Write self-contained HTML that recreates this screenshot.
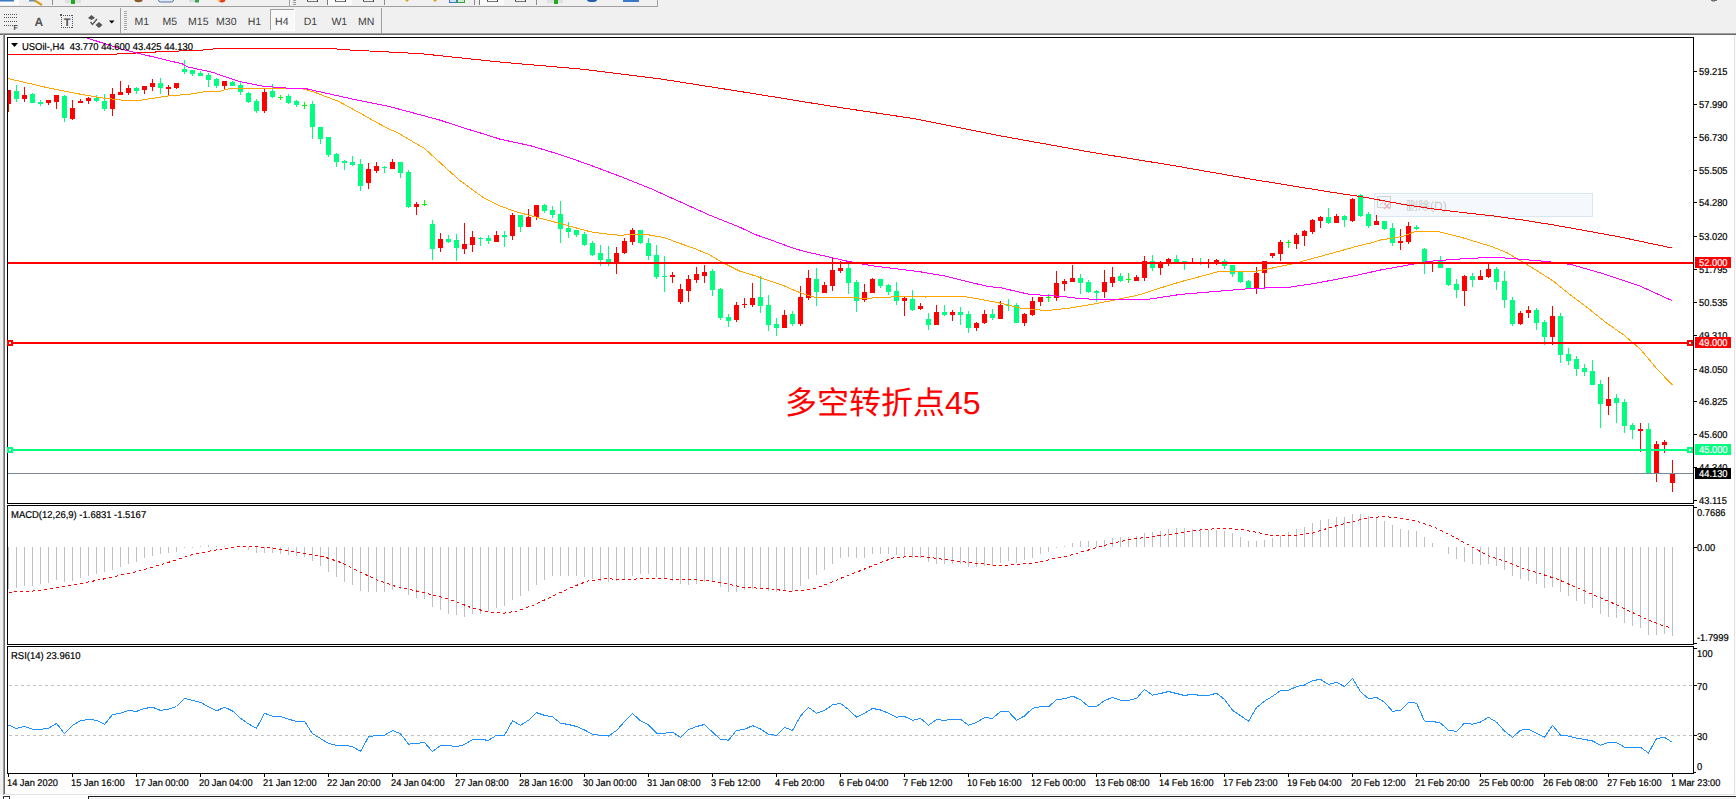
<!DOCTYPE html>
<html><head><meta charset="utf-8"><title>USOil-,H4</title>
<style>
html,body{margin:0;padding:0;background:#f0f0f0;}
body{width:1736px;height:799px;overflow:hidden;position:relative;}
svg{position:absolute;left:0;top:0;display:block;}
text{white-space:pre;text-rendering:geometricPrecision;}
</style></head>
<body>
<svg width="1736" height="799" viewBox="0 0 1736 799">
<rect x="0" y="0" width="1736" height="799" fill="#f0f0f0"/>
<rect x="5" y="35" width="1729" height="759" fill="#fff"/>
<defs><clipPath id="cm"><rect x="8" y="38" width="1685" height="465"/></clipPath><clipPath id="cd"><rect x="8" y="506" width="1685" height="138"/></clipPath><clipPath id="cr"><rect x="8" y="647" width="1685" height="126"/></clipPath></defs>
<g clip-path="url(#cm)">
<rect x="1374.5" y="193.5" width="218" height="23" fill="#f5f9fd" stroke="#d9e6f4" stroke-width="1"/>
<g opacity="0.35"><rect x="1377.5" y="196.5" width="13" height="11" fill="none" stroke="#8a8a8a"/><path d="M1380 205 L1386 199" stroke="#8a8a8a" stroke-width="1"/><path d="M1384 203 L1390 209 M1390 203 L1384 209" stroke="#e04040" stroke-width="1.6"/></g>
<text x="1406" y="209.5" font-family="'Liberation Sans','Noto Sans CJK SC',sans-serif" font-size="12" fill="#c9c9c9">删除(D)</text>
<g shape-rendering="crispEdges">
<rect x="8" y="90" width="1" height="22" fill="#ff0000"/>
<rect x="6" y="90" width="5" height="14" fill="#ff0000"/>
<rect x="16" y="85" width="1" height="17" fill="#00ff7f"/>
<rect x="14" y="91" width="5" height="8" fill="#00ff7f"/>
<rect x="24" y="87" width="1" height="15" fill="#ff0000"/>
<rect x="22" y="95" width="5" height="4" fill="#ff0000"/>
<rect x="32" y="93" width="1" height="10" fill="#00ff7f"/>
<rect x="30" y="94" width="5" height="9" fill="#00ff7f"/>
<rect x="40" y="100" width="1" height="6" fill="#00ff7f"/>
<rect x="38" y="102" width="5" height="2" fill="#00ff7f"/>
<rect x="48" y="100" width="1" height="5" fill="#ff0000"/>
<rect x="46" y="100" width="5" height="3" fill="#ff0000"/>
<rect x="56" y="95" width="1" height="14" fill="#ff0000"/>
<rect x="54" y="95" width="5" height="7" fill="#ff0000"/>
<rect x="64" y="95" width="1" height="27" fill="#00ff7f"/>
<rect x="62" y="96" width="5" height="22" fill="#00ff7f"/>
<rect x="72" y="100" width="1" height="20" fill="#ff0000"/>
<rect x="70" y="108" width="5" height="11" fill="#ff0000"/>
<rect x="80" y="99" width="1" height="4" fill="#ff0000"/>
<rect x="78" y="101" width="5" height="2" fill="#ff0000"/>
<rect x="88" y="97" width="1" height="7" fill="#ff0000"/>
<rect x="86" y="98" width="5" height="3" fill="#ff0000"/>
<rect x="96" y="95" width="1" height="7" fill="#00ff7f"/>
<rect x="94" y="98" width="5" height="3" fill="#00ff7f"/>
<rect x="104" y="94" width="1" height="17" fill="#00ff7f"/>
<rect x="102" y="101" width="5" height="8" fill="#00ff7f"/>
<rect x="112" y="88" width="1" height="28" fill="#ff0000"/>
<rect x="110" y="94" width="5" height="15" fill="#ff0000"/>
<rect x="120" y="81" width="1" height="14" fill="#ff0000"/>
<rect x="118" y="92" width="5" height="3" fill="#ff0000"/>
<rect x="128" y="85" width="1" height="10" fill="#ff0000"/>
<rect x="126" y="88" width="5" height="5" fill="#ff0000"/>
<rect x="136" y="87" width="1" height="7" fill="#00ff7f"/>
<rect x="134" y="88" width="5" height="3" fill="#00ff7f"/>
<rect x="144" y="86" width="1" height="8" fill="#ff0000"/>
<rect x="142" y="86" width="5" height="4" fill="#ff0000"/>
<rect x="152" y="79" width="1" height="12" fill="#ff0000"/>
<rect x="150" y="83" width="5" height="4" fill="#ff0000"/>
<rect x="160" y="78" width="1" height="16" fill="#00ff7f"/>
<rect x="158" y="83" width="5" height="5" fill="#00ff7f"/>
<rect x="168" y="85" width="1" height="11" fill="#ff0000"/>
<rect x="166" y="87" width="5" height="2" fill="#ff0000"/>
<rect x="176" y="83" width="1" height="6" fill="#ff0000"/>
<rect x="174" y="83" width="5" height="5" fill="#ff0000"/>
<rect x="184" y="60" width="1" height="14" fill="#00ff7f"/>
<rect x="182" y="69" width="5" height="3" fill="#00ff7f"/>
<rect x="192" y="70" width="1" height="6" fill="#00ff7f"/>
<rect x="190" y="70" width="5" height="4" fill="#00ff7f"/>
<rect x="200" y="71" width="1" height="5" fill="#00ff7f"/>
<rect x="198" y="73" width="5" height="3" fill="#00ff7f"/>
<rect x="208" y="73" width="1" height="14" fill="#00ff7f"/>
<rect x="206" y="75" width="5" height="5" fill="#00ff7f"/>
<rect x="216" y="78" width="1" height="10" fill="#00ff7f"/>
<rect x="214" y="79" width="5" height="7" fill="#00ff7f"/>
<rect x="224" y="81" width="1" height="9" fill="#ff0000"/>
<rect x="222" y="81" width="5" height="5" fill="#ff0000"/>
<rect x="232" y="81" width="1" height="5" fill="#00ff7f"/>
<rect x="230" y="82" width="5" height="4" fill="#00ff7f"/>
<rect x="240" y="82" width="1" height="13" fill="#00ff7f"/>
<rect x="238" y="85" width="5" height="7" fill="#00ff7f"/>
<rect x="248" y="92" width="1" height="11" fill="#00ff7f"/>
<rect x="246" y="93" width="5" height="9" fill="#00ff7f"/>
<rect x="256" y="99" width="1" height="14" fill="#00ff7f"/>
<rect x="254" y="101" width="5" height="10" fill="#00ff7f"/>
<rect x="264" y="88" width="1" height="25" fill="#ff0000"/>
<rect x="262" y="92" width="5" height="19" fill="#ff0000"/>
<rect x="272" y="84" width="1" height="14" fill="#00ff7f"/>
<rect x="270" y="91" width="5" height="6" fill="#00ff7f"/>
<rect x="280" y="95" width="1" height="5" fill="#00ff00"/>
<rect x="278" y="97" width="5" height="1" fill="#00ff00"/>
<rect x="288" y="94" width="1" height="10" fill="#00ff7f"/>
<rect x="286" y="96" width="5" height="7" fill="#00ff7f"/>
<rect x="296" y="100" width="1" height="7" fill="#00ff7f"/>
<rect x="294" y="101" width="5" height="4" fill="#00ff7f"/>
<rect x="304" y="102" width="1" height="7" fill="#00ff00"/>
<rect x="302" y="105" width="5" height="1" fill="#00ff00"/>
<rect x="312" y="101" width="1" height="38" fill="#00ff7f"/>
<rect x="310" y="104" width="5" height="23" fill="#00ff7f"/>
<rect x="320" y="127" width="1" height="17" fill="#00ff7f"/>
<rect x="318" y="127" width="5" height="12" fill="#00ff7f"/>
<rect x="328" y="137" width="1" height="20" fill="#00ff7f"/>
<rect x="326" y="137" width="5" height="18" fill="#00ff7f"/>
<rect x="336" y="153" width="1" height="14" fill="#00ff7f"/>
<rect x="334" y="154" width="5" height="8" fill="#00ff7f"/>
<rect x="344" y="160" width="1" height="10" fill="#00ff7f"/>
<rect x="342" y="161" width="5" height="2" fill="#00ff7f"/>
<rect x="352" y="156" width="1" height="10" fill="#00ff7f"/>
<rect x="350" y="162" width="5" height="3" fill="#00ff7f"/>
<rect x="360" y="159" width="1" height="32" fill="#00ff7f"/>
<rect x="358" y="164" width="5" height="22" fill="#00ff7f"/>
<rect x="368" y="163" width="1" height="26" fill="#ff0000"/>
<rect x="366" y="169" width="5" height="14" fill="#ff0000"/>
<rect x="376" y="162" width="1" height="11" fill="#ff0000"/>
<rect x="374" y="166" width="5" height="5" fill="#ff0000"/>
<rect x="384" y="166" width="1" height="7" fill="#00ff7f"/>
<rect x="382" y="167" width="5" height="1" fill="#00ff7f"/>
<rect x="392" y="159" width="1" height="10" fill="#ff0000"/>
<rect x="390" y="162" width="5" height="7" fill="#ff0000"/>
<rect x="400" y="162" width="1" height="16" fill="#00ff7f"/>
<rect x="398" y="162" width="5" height="11" fill="#00ff7f"/>
<rect x="408" y="170" width="1" height="38" fill="#00ff7f"/>
<rect x="406" y="172" width="5" height="35" fill="#00ff7f"/>
<rect x="416" y="202" width="1" height="13" fill="#ff0000"/>
<rect x="414" y="204" width="5" height="3" fill="#ff0000"/>
<rect x="424" y="200" width="1" height="6" fill="#00ff00"/>
<rect x="422" y="204" width="5" height="1" fill="#00ff00"/>
<rect x="432" y="220" width="1" height="40" fill="#00ff7f"/>
<rect x="430" y="224" width="5" height="25" fill="#00ff7f"/>
<rect x="440" y="233" width="1" height="19" fill="#ff0000"/>
<rect x="438" y="239" width="5" height="9" fill="#ff0000"/>
<rect x="448" y="235" width="1" height="8" fill="#00ff7f"/>
<rect x="446" y="239" width="5" height="3" fill="#00ff7f"/>
<rect x="456" y="234" width="1" height="27" fill="#00ff7f"/>
<rect x="454" y="240" width="5" height="8" fill="#00ff7f"/>
<rect x="464" y="223" width="1" height="31" fill="#ff0000"/>
<rect x="462" y="244" width="5" height="5" fill="#ff0000"/>
<rect x="472" y="231" width="1" height="21" fill="#ff0000"/>
<rect x="470" y="237" width="5" height="8" fill="#ff0000"/>
<rect x="480" y="237" width="1" height="9" fill="#00ff7f"/>
<rect x="478" y="238" width="5" height="1" fill="#00ff7f"/>
<rect x="488" y="235" width="1" height="9" fill="#00ff7f"/>
<rect x="486" y="238" width="5" height="3" fill="#00ff7f"/>
<rect x="496" y="231" width="1" height="11" fill="#ff0000"/>
<rect x="494" y="235" width="5" height="7" fill="#ff0000"/>
<rect x="504" y="231" width="1" height="16" fill="#00ff7f"/>
<rect x="502" y="235" width="5" height="2" fill="#00ff7f"/>
<rect x="512" y="213" width="1" height="27" fill="#ff0000"/>
<rect x="510" y="215" width="5" height="21" fill="#ff0000"/>
<rect x="520" y="215" width="1" height="17" fill="#00ff7f"/>
<rect x="518" y="215" width="5" height="12" fill="#00ff7f"/>
<rect x="528" y="209" width="1" height="18" fill="#ff0000"/>
<rect x="526" y="217" width="5" height="10" fill="#ff0000"/>
<rect x="536" y="205" width="1" height="15" fill="#ff0000"/>
<rect x="534" y="205" width="5" height="12" fill="#ff0000"/>
<rect x="544" y="204" width="1" height="9" fill="#00ff7f"/>
<rect x="542" y="205" width="5" height="6" fill="#00ff7f"/>
<rect x="552" y="206" width="1" height="12" fill="#00ff7f"/>
<rect x="550" y="210" width="5" height="5" fill="#00ff7f"/>
<rect x="560" y="201" width="1" height="42" fill="#00ff7f"/>
<rect x="558" y="214" width="5" height="15" fill="#00ff7f"/>
<rect x="568" y="222" width="1" height="16" fill="#00ff7f"/>
<rect x="566" y="228" width="5" height="4" fill="#00ff7f"/>
<rect x="576" y="230" width="1" height="7" fill="#00ff7f"/>
<rect x="574" y="230" width="5" height="5" fill="#00ff7f"/>
<rect x="584" y="232" width="1" height="14" fill="#00ff7f"/>
<rect x="582" y="234" width="5" height="11" fill="#00ff7f"/>
<rect x="592" y="241" width="1" height="15" fill="#00ff7f"/>
<rect x="590" y="243" width="5" height="12" fill="#00ff7f"/>
<rect x="600" y="245" width="1" height="21" fill="#00ff7f"/>
<rect x="598" y="253" width="5" height="7" fill="#00ff7f"/>
<rect x="608" y="246" width="1" height="20" fill="#00ff7f"/>
<rect x="606" y="259" width="5" height="3" fill="#00ff7f"/>
<rect x="616" y="247" width="1" height="27" fill="#ff0000"/>
<rect x="614" y="253" width="5" height="10" fill="#ff0000"/>
<rect x="624" y="238" width="1" height="16" fill="#ff0000"/>
<rect x="622" y="241" width="5" height="12" fill="#ff0000"/>
<rect x="632" y="228" width="1" height="17" fill="#ff0000"/>
<rect x="630" y="230" width="5" height="12" fill="#ff0000"/>
<rect x="640" y="230" width="1" height="14" fill="#00ff7f"/>
<rect x="638" y="230" width="5" height="13" fill="#00ff7f"/>
<rect x="648" y="238" width="1" height="22" fill="#00ff7f"/>
<rect x="646" y="243" width="5" height="13" fill="#00ff7f"/>
<rect x="656" y="245" width="1" height="34" fill="#00ff7f"/>
<rect x="654" y="255" width="5" height="22" fill="#00ff7f"/>
<rect x="664" y="256" width="1" height="36" fill="#00ff7f"/>
<rect x="662" y="276" width="5" height="1" fill="#00ff7f"/>
<rect x="672" y="272" width="1" height="11" fill="#ff0000"/>
<rect x="670" y="275" width="5" height="2" fill="#ff0000"/>
<rect x="680" y="284" width="1" height="20" fill="#ff0000"/>
<rect x="678" y="289" width="5" height="13" fill="#ff0000"/>
<rect x="688" y="275" width="1" height="27" fill="#ff0000"/>
<rect x="686" y="279" width="5" height="12" fill="#ff0000"/>
<rect x="696" y="267" width="1" height="16" fill="#ff0000"/>
<rect x="694" y="274" width="5" height="6" fill="#ff0000"/>
<rect x="704" y="265" width="1" height="18" fill="#ff0000"/>
<rect x="702" y="272" width="5" height="4" fill="#ff0000"/>
<rect x="712" y="269" width="1" height="27" fill="#00ff7f"/>
<rect x="710" y="271" width="5" height="19" fill="#00ff7f"/>
<rect x="720" y="288" width="1" height="32" fill="#00ff7f"/>
<rect x="718" y="289" width="5" height="29" fill="#00ff7f"/>
<rect x="728" y="314" width="1" height="13" fill="#00ff7f"/>
<rect x="726" y="317" width="5" height="4" fill="#00ff7f"/>
<rect x="736" y="302" width="1" height="20" fill="#ff0000"/>
<rect x="734" y="305" width="5" height="15" fill="#ff0000"/>
<rect x="744" y="298" width="1" height="10" fill="#ff0000"/>
<rect x="742" y="304" width="5" height="1" fill="#ff0000"/>
<rect x="752" y="283" width="1" height="24" fill="#ff0000"/>
<rect x="750" y="298" width="5" height="7" fill="#ff0000"/>
<rect x="760" y="276" width="1" height="37" fill="#00ff7f"/>
<rect x="758" y="297" width="5" height="9" fill="#00ff7f"/>
<rect x="768" y="295" width="1" height="36" fill="#00ff7f"/>
<rect x="766" y="305" width="5" height="20" fill="#00ff7f"/>
<rect x="776" y="318" width="1" height="18" fill="#00ff7f"/>
<rect x="774" y="324" width="5" height="4" fill="#00ff7f"/>
<rect x="784" y="310" width="1" height="18" fill="#ff0000"/>
<rect x="782" y="315" width="5" height="13" fill="#ff0000"/>
<rect x="792" y="311" width="1" height="15" fill="#00ff7f"/>
<rect x="790" y="314" width="5" height="10" fill="#00ff7f"/>
<rect x="800" y="286" width="1" height="40" fill="#ff0000"/>
<rect x="798" y="297" width="5" height="27" fill="#ff0000"/>
<rect x="808" y="270" width="1" height="30" fill="#ff0000"/>
<rect x="806" y="278" width="5" height="20" fill="#ff0000"/>
<rect x="816" y="268" width="1" height="38" fill="#00ff7f"/>
<rect x="814" y="279" width="5" height="13" fill="#00ff7f"/>
<rect x="824" y="282" width="1" height="11" fill="#ff0000"/>
<rect x="822" y="285" width="5" height="8" fill="#ff0000"/>
<rect x="832" y="258" width="1" height="33" fill="#ff0000"/>
<rect x="830" y="270" width="5" height="16" fill="#ff0000"/>
<rect x="840" y="261" width="1" height="12" fill="#ff0000"/>
<rect x="838" y="268" width="5" height="3" fill="#ff0000"/>
<rect x="848" y="263" width="1" height="31" fill="#00ff7f"/>
<rect x="846" y="268" width="5" height="15" fill="#00ff7f"/>
<rect x="856" y="280" width="1" height="32" fill="#00ff7f"/>
<rect x="854" y="282" width="5" height="19" fill="#00ff7f"/>
<rect x="864" y="284" width="1" height="18" fill="#ff0000"/>
<rect x="862" y="292" width="5" height="8" fill="#ff0000"/>
<rect x="872" y="278" width="1" height="15" fill="#ff0000"/>
<rect x="870" y="279" width="5" height="14" fill="#ff0000"/>
<rect x="880" y="279" width="1" height="9" fill="#00ff7f"/>
<rect x="878" y="279" width="5" height="7" fill="#00ff7f"/>
<rect x="888" y="284" width="1" height="11" fill="#00ff7f"/>
<rect x="886" y="285" width="5" height="7" fill="#00ff7f"/>
<rect x="896" y="282" width="1" height="23" fill="#00ff7f"/>
<rect x="894" y="291" width="5" height="10" fill="#00ff7f"/>
<rect x="904" y="297" width="1" height="19" fill="#ff0000"/>
<rect x="902" y="298" width="5" height="3" fill="#ff0000"/>
<rect x="912" y="290" width="1" height="21" fill="#00ff7f"/>
<rect x="910" y="299" width="5" height="11" fill="#00ff7f"/>
<rect x="920" y="303" width="1" height="7" fill="#ff0000"/>
<rect x="918" y="306" width="5" height="3" fill="#ff0000"/>
<rect x="928" y="313" width="1" height="17" fill="#00ff7f"/>
<rect x="926" y="319" width="5" height="6" fill="#00ff7f"/>
<rect x="936" y="305" width="1" height="20" fill="#ff0000"/>
<rect x="934" y="312" width="5" height="13" fill="#ff0000"/>
<rect x="944" y="305" width="1" height="11" fill="#00ff7f"/>
<rect x="942" y="312" width="5" height="3" fill="#00ff7f"/>
<rect x="952" y="310" width="1" height="11" fill="#ff0000"/>
<rect x="950" y="312" width="5" height="3" fill="#ff0000"/>
<rect x="960" y="307" width="1" height="18" fill="#00ff7f"/>
<rect x="958" y="312" width="5" height="3" fill="#00ff7f"/>
<rect x="968" y="311" width="1" height="22" fill="#00ff7f"/>
<rect x="966" y="314" width="5" height="14" fill="#00ff7f"/>
<rect x="976" y="322" width="1" height="9" fill="#ff0000"/>
<rect x="974" y="323" width="5" height="5" fill="#ff0000"/>
<rect x="984" y="310" width="1" height="14" fill="#ff0000"/>
<rect x="982" y="314" width="5" height="9" fill="#ff0000"/>
<rect x="992" y="309" width="1" height="11" fill="#00ff7f"/>
<rect x="990" y="314" width="5" height="4" fill="#00ff7f"/>
<rect x="1000" y="301" width="1" height="18" fill="#ff0000"/>
<rect x="998" y="305" width="5" height="14" fill="#ff0000"/>
<rect x="1008" y="299" width="1" height="12" fill="#00ff7f"/>
<rect x="1006" y="305" width="5" height="1" fill="#00ff7f"/>
<rect x="1016" y="303" width="1" height="20" fill="#00ff7f"/>
<rect x="1014" y="305" width="5" height="18" fill="#00ff7f"/>
<rect x="1024" y="313" width="1" height="13" fill="#ff0000"/>
<rect x="1022" y="314" width="5" height="9" fill="#ff0000"/>
<rect x="1032" y="297" width="1" height="19" fill="#ff0000"/>
<rect x="1030" y="301" width="5" height="14" fill="#ff0000"/>
<rect x="1040" y="297" width="1" height="9" fill="#ff0000"/>
<rect x="1038" y="297" width="5" height="5" fill="#ff0000"/>
<rect x="1048" y="294" width="1" height="8" fill="#00ff00"/>
<rect x="1046" y="297" width="5" height="1" fill="#00ff00"/>
<rect x="1056" y="271" width="1" height="30" fill="#ff0000"/>
<rect x="1054" y="283" width="5" height="15" fill="#ff0000"/>
<rect x="1064" y="279" width="1" height="12" fill="#ff0000"/>
<rect x="1062" y="281" width="5" height="3" fill="#ff0000"/>
<rect x="1072" y="265" width="1" height="17" fill="#ff0000"/>
<rect x="1070" y="278" width="5" height="4" fill="#ff0000"/>
<rect x="1080" y="274" width="1" height="20" fill="#00ff7f"/>
<rect x="1078" y="278" width="5" height="5" fill="#00ff7f"/>
<rect x="1088" y="280" width="1" height="13" fill="#00ff7f"/>
<rect x="1086" y="282" width="5" height="10" fill="#00ff7f"/>
<rect x="1096" y="290" width="1" height="12" fill="#00ff7f"/>
<rect x="1094" y="291" width="5" height="2" fill="#00ff7f"/>
<rect x="1104" y="270" width="1" height="28" fill="#ff0000"/>
<rect x="1102" y="282" width="5" height="10" fill="#ff0000"/>
<rect x="1112" y="267" width="1" height="20" fill="#ff0000"/>
<rect x="1110" y="277" width="5" height="6" fill="#ff0000"/>
<rect x="1120" y="273" width="1" height="9" fill="#00ff7f"/>
<rect x="1118" y="276" width="5" height="5" fill="#00ff7f"/>
<rect x="1128" y="273" width="1" height="10" fill="#00ff00"/>
<rect x="1126" y="279" width="5" height="1" fill="#00ff00"/>
<rect x="1136" y="275" width="1" height="6" fill="#ff0000"/>
<rect x="1134" y="277" width="5" height="4" fill="#ff0000"/>
<rect x="1144" y="256" width="1" height="25" fill="#ff0000"/>
<rect x="1142" y="261" width="5" height="17" fill="#ff0000"/>
<rect x="1152" y="255" width="1" height="16" fill="#00ff7f"/>
<rect x="1150" y="261" width="5" height="7" fill="#00ff7f"/>
<rect x="1160" y="261" width="1" height="14" fill="#ff0000"/>
<rect x="1158" y="263" width="5" height="5" fill="#ff0000"/>
<rect x="1168" y="258" width="1" height="8" fill="#ff0000"/>
<rect x="1166" y="259" width="5" height="4" fill="#ff0000"/>
<rect x="1176" y="255" width="1" height="7" fill="#00ff7f"/>
<rect x="1174" y="259" width="5" height="3" fill="#00ff7f"/>
<rect x="1184" y="261" width="1" height="9" fill="#00ff7f"/>
<rect x="1182" y="261" width="5" height="1" fill="#00ff7f"/>
<rect x="1192" y="258" width="1" height="6" fill="#ff0000"/>
<rect x="1190" y="262" width="5" height="2" fill="#ff0000"/>
<rect x="1200" y="258" width="1" height="7" fill="#00ff7f"/>
<rect x="1198" y="262" width="5" height="1" fill="#00ff7f"/>
<rect x="1208" y="259" width="1" height="9" fill="#ff0000"/>
<rect x="1206" y="262" width="5" height="1" fill="#ff0000"/>
<rect x="1216" y="259" width="1" height="6" fill="#ff0000"/>
<rect x="1214" y="260" width="5" height="4" fill="#ff0000"/>
<rect x="1224" y="259" width="1" height="10" fill="#00ff7f"/>
<rect x="1222" y="261" width="5" height="5" fill="#00ff7f"/>
<rect x="1232" y="265" width="1" height="12" fill="#00ff7f"/>
<rect x="1230" y="265" width="5" height="9" fill="#00ff7f"/>
<rect x="1240" y="271" width="1" height="12" fill="#00ff7f"/>
<rect x="1238" y="272" width="5" height="10" fill="#00ff7f"/>
<rect x="1248" y="280" width="1" height="8" fill="#00ff7f"/>
<rect x="1246" y="281" width="5" height="7" fill="#00ff7f"/>
<rect x="1256" y="267" width="1" height="27" fill="#ff0000"/>
<rect x="1254" y="273" width="5" height="15" fill="#ff0000"/>
<rect x="1264" y="261" width="1" height="26" fill="#ff0000"/>
<rect x="1262" y="261" width="5" height="12" fill="#ff0000"/>
<rect x="1272" y="253" width="1" height="5" fill="#ff0000"/>
<rect x="1270" y="253" width="5" height="3" fill="#ff0000"/>
<rect x="1280" y="240" width="1" height="21" fill="#ff0000"/>
<rect x="1278" y="242" width="5" height="12" fill="#ff0000"/>
<rect x="1288" y="240" width="1" height="8" fill="#00ff00"/>
<rect x="1286" y="242" width="5" height="1" fill="#00ff00"/>
<rect x="1296" y="233" width="1" height="16" fill="#ff0000"/>
<rect x="1294" y="235" width="5" height="9" fill="#ff0000"/>
<rect x="1304" y="230" width="1" height="16" fill="#ff0000"/>
<rect x="1302" y="231" width="5" height="5" fill="#ff0000"/>
<rect x="1312" y="219" width="1" height="15" fill="#ff0000"/>
<rect x="1310" y="220" width="5" height="12" fill="#ff0000"/>
<rect x="1320" y="216" width="1" height="12" fill="#ff0000"/>
<rect x="1318" y="217" width="5" height="4" fill="#ff0000"/>
<rect x="1328" y="208" width="1" height="16" fill="#00ff7f"/>
<rect x="1326" y="217" width="5" height="6" fill="#00ff7f"/>
<rect x="1336" y="214" width="1" height="9" fill="#ff0000"/>
<rect x="1334" y="216" width="5" height="7" fill="#ff0000"/>
<rect x="1344" y="215" width="1" height="12" fill="#00ff7f"/>
<rect x="1342" y="216" width="5" height="4" fill="#00ff7f"/>
<rect x="1352" y="198" width="1" height="24" fill="#ff0000"/>
<rect x="1350" y="199" width="5" height="22" fill="#ff0000"/>
<rect x="1360" y="194" width="1" height="23" fill="#00ff7f"/>
<rect x="1358" y="195" width="5" height="21" fill="#00ff7f"/>
<rect x="1368" y="212" width="1" height="16" fill="#00ff7f"/>
<rect x="1366" y="214" width="5" height="12" fill="#00ff7f"/>
<rect x="1376" y="215" width="1" height="10" fill="#ff0000"/>
<rect x="1374" y="221" width="5" height="4" fill="#ff0000"/>
<rect x="1384" y="221" width="1" height="9" fill="#00ff7f"/>
<rect x="1382" y="221" width="5" height="8" fill="#00ff7f"/>
<rect x="1392" y="223" width="1" height="23" fill="#00ff7f"/>
<rect x="1390" y="228" width="5" height="15" fill="#00ff7f"/>
<rect x="1400" y="229" width="1" height="21" fill="#ff0000"/>
<rect x="1398" y="241" width="5" height="2" fill="#ff0000"/>
<rect x="1408" y="222" width="1" height="22" fill="#ff0000"/>
<rect x="1406" y="226" width="5" height="16" fill="#ff0000"/>
<rect x="1416" y="225" width="1" height="5" fill="#00ff7f"/>
<rect x="1414" y="227" width="5" height="2" fill="#00ff7f"/>
<rect x="1424" y="248" width="1" height="26" fill="#00ff7f"/>
<rect x="1422" y="249" width="5" height="13" fill="#00ff7f"/>
<rect x="1432" y="262" width="1" height="10" fill="#ff0000"/>
<rect x="1430" y="262" width="5" height="2" fill="#ff0000"/>
<rect x="1440" y="256" width="1" height="12" fill="#00ff7f"/>
<rect x="1438" y="261" width="5" height="7" fill="#00ff7f"/>
<rect x="1448" y="268" width="1" height="18" fill="#00ff7f"/>
<rect x="1446" y="268" width="5" height="17" fill="#00ff7f"/>
<rect x="1456" y="279" width="1" height="19" fill="#00ff7f"/>
<rect x="1454" y="284" width="5" height="6" fill="#00ff7f"/>
<rect x="1464" y="275" width="1" height="31" fill="#ff0000"/>
<rect x="1462" y="276" width="5" height="15" fill="#ff0000"/>
<rect x="1472" y="273" width="1" height="14" fill="#00ff7f"/>
<rect x="1470" y="276" width="5" height="4" fill="#00ff7f"/>
<rect x="1480" y="270" width="1" height="10" fill="#ff0000"/>
<rect x="1478" y="276" width="5" height="4" fill="#ff0000"/>
<rect x="1488" y="264" width="1" height="14" fill="#ff0000"/>
<rect x="1486" y="269" width="5" height="8" fill="#ff0000"/>
<rect x="1496" y="267" width="1" height="23" fill="#00ff7f"/>
<rect x="1494" y="269" width="5" height="13" fill="#00ff7f"/>
<rect x="1504" y="271" width="1" height="37" fill="#00ff7f"/>
<rect x="1502" y="281" width="5" height="19" fill="#00ff7f"/>
<rect x="1512" y="297" width="1" height="29" fill="#00ff7f"/>
<rect x="1510" y="300" width="5" height="24" fill="#00ff7f"/>
<rect x="1520" y="311" width="1" height="14" fill="#ff0000"/>
<rect x="1518" y="313" width="5" height="11" fill="#ff0000"/>
<rect x="1528" y="306" width="1" height="12" fill="#ff0000"/>
<rect x="1526" y="310" width="5" height="3" fill="#ff0000"/>
<rect x="1536" y="308" width="1" height="22" fill="#00ff7f"/>
<rect x="1534" y="310" width="5" height="13" fill="#00ff7f"/>
<rect x="1544" y="320" width="1" height="25" fill="#00ff7f"/>
<rect x="1542" y="322" width="5" height="15" fill="#00ff7f"/>
<rect x="1552" y="306" width="1" height="39" fill="#ff0000"/>
<rect x="1550" y="316" width="5" height="21" fill="#ff0000"/>
<rect x="1560" y="313" width="1" height="50" fill="#00ff7f"/>
<rect x="1558" y="316" width="5" height="39" fill="#00ff7f"/>
<rect x="1568" y="348" width="1" height="17" fill="#00ff7f"/>
<rect x="1566" y="354" width="5" height="7" fill="#00ff7f"/>
<rect x="1576" y="356" width="1" height="20" fill="#00ff7f"/>
<rect x="1574" y="359" width="5" height="10" fill="#00ff7f"/>
<rect x="1584" y="364" width="1" height="12" fill="#00ff7f"/>
<rect x="1582" y="368" width="5" height="4" fill="#00ff7f"/>
<rect x="1592" y="360" width="1" height="25" fill="#00ff7f"/>
<rect x="1590" y="371" width="5" height="14" fill="#00ff7f"/>
<rect x="1600" y="380" width="1" height="48" fill="#00ff7f"/>
<rect x="1598" y="384" width="5" height="20" fill="#00ff7f"/>
<rect x="1608" y="377" width="1" height="38" fill="#ff0000"/>
<rect x="1606" y="399" width="5" height="7" fill="#ff0000"/>
<rect x="1616" y="394" width="1" height="29" fill="#00ff7f"/>
<rect x="1614" y="398" width="5" height="5" fill="#00ff7f"/>
<rect x="1624" y="399" width="1" height="34" fill="#00ff7f"/>
<rect x="1622" y="402" width="5" height="24" fill="#00ff7f"/>
<rect x="1632" y="423" width="1" height="16" fill="#00ff7f"/>
<rect x="1630" y="425" width="5" height="5" fill="#00ff7f"/>
<rect x="1640" y="423" width="1" height="29" fill="#ff0000"/>
<rect x="1638" y="429" width="5" height="2" fill="#ff0000"/>
<rect x="1648" y="423" width="1" height="50" fill="#00ff7f"/>
<rect x="1646" y="429" width="5" height="44" fill="#00ff7f"/>
<rect x="1656" y="441" width="1" height="41" fill="#ff0000"/>
<rect x="1654" y="444" width="5" height="29" fill="#ff0000"/>
<rect x="1664" y="440" width="1" height="13" fill="#ff0000"/>
<rect x="1662" y="442" width="5" height="3" fill="#ff0000"/>
<rect x="1672" y="460" width="1" height="32" fill="#ff0000"/>
<rect x="1670" y="473" width="5" height="10" fill="#ff0000"/>
</g>
<g shape-rendering="crispEdges">
<polyline points="7.5,54.1 115.5,54.1 161.5,51.7 202.1,50.1 222.3,48.1 331.1,48.1 340.5,49.5 421.1,53.7 501.5,62.2 582.5,69.2 663.1,79.3 670.5,80.5 751.1,93.2 831.8,106.3 912.5,118.4 993.1,134.5 1010.5,137.7 1091.1,152.2 1171.8,165.3 1252.5,179.4 1333.1,192.5 1360.5,196.5 1372.5,198.7 1402.5,204.3 1432.5,208.8 1462.5,212.5 1492.5,215.8 1522.5,220.0 1552.5,224.8 1572.5,228.3 1620.5,237.1 1672.5,248.1" fill="none" stroke="#ff0000" stroke-width="1" />
<polyline points="7.5,78.4 50.5,88.4 80.5,94.2 104.5,98.2 125.5,100.5 140.5,100.2 168.5,95.9 188.5,94.4 204.5,91.7 219.5,91.3 231.0,88.2 268.5,88.2 301.1,88.5 313.5,91.9 338.5,101.3 363.5,115.0 372.1,120.0 388.5,128.8 397.1,132.5 424.5,148.5 437.1,160.0 459.3,180.0 483.1,197.5 500.5,206.1 515.5,211.6 537.9,217.6 560.5,223.6 590.4,231.8 604.5,233.8 619.5,235.3 634.5,234.3 649.5,235.0 664.5,237.7 679.5,243.3 694.5,248.5 709.5,254.8 721.5,262.0 739.5,271.0 754.5,275.6 769.5,280.8 784.5,286.0 796.5,291.3 809.0,295.7 815.3,297.3 844.1,297.3 861.5,298.2 884.1,297.8 896.5,296.3 925.5,297.0 940.5,296.3 964.2,296.6 978.0,298.8 988.5,301.0 996.5,302.3 1021.0,308.2 1036.1,309.5 1046.1,310.7 1068.5,308.2 1088.5,305.0 1113.5,300.3 1138.5,295.0 1163.5,287.0 1180.5,281.8 1210.5,273.8 1218.0,271.6 1243.5,271.9 1255.5,271.6 1291.5,264.0 1300.5,261.8 1330.5,253.6 1360.5,245.3 1372.5,242.6 1380.5,240.0 1402.5,236.5 1416.0,231.3 1437.1,231.3 1462.5,237.7 1492.5,246.8 1507.5,253.0 1522.5,262.0 1537.5,271.0 1553.1,281.0 1570.5,295.0 1588.1,308.2 1605.5,322.2 1623.2,334.5 1640.5,349.4 1658.3,370.4 1672.3,384.8" fill="none" stroke="#ffa500" stroke-width="1" />
<polyline points="70.5,33.0 87.2,38.0 121.5,49.1 141.5,54.1 182.0,63.8 188.5,67.1 213.5,72.5 222.3,75.9 238.5,81.3 263.5,86.3 288.5,88.2 307.5,89.0 326.2,93.2 351.2,98.8 388.5,106.3 439.5,120.0 462.2,127.5 487.2,135.0 500.5,139.3 530.5,145.7 560.5,154.7 590.4,165.2 620.3,176.4 650.3,188.4 680.2,201.9 710.2,215.4 740.1,227.3 754.5,234.3 769.5,239.5 792.2,247.8 804.5,251.5 821.5,255.3 846.5,261.0 871.5,265.7 896.5,268.8 921.5,272.0 946.5,276.3 971.5,282.6 988.5,286.6 1001.0,287.8 1013.5,290.7 1029.5,294.4 1061.1,296.3 1076.1,298.2 1094.9,299.4 1147.5,299.4 1163.5,297.0 1180.5,294.4 1210.5,291.9 1255.5,288.1 1285.5,287.8 1315.5,283.3 1345.5,277.6 1372.5,271.8 1380.5,270.0 1414.5,263.9 1429.5,261.3 1453.5,259.4 1485.1,257.6 1500.1,257.6 1522.5,259.4 1549.5,261.8 1570.5,264.4 1605.5,274.4 1640.5,286.3 1672.3,300.7" fill="none" stroke="#ff00ff" stroke-width="1" />
</g>
<rect x="8" y="262" width="1685" height="2" fill="#ff0000"/>
<rect x="8" y="342" width="1685" height="2" fill="#ff0000"/>
<rect x="8" y="449" width="1685" height="2" fill="#00ff7f"/>
<rect x="8" y="473" width="1685" height="1" fill="#778899"/>
<text x="785" y="414" font-family="'Liberation Sans','Noto Sans CJK SC',sans-serif" font-size="32" fill="#ff0000"><tspan font-family="'Liberation Sans','Noto Sans CJK SC',sans-serif">多空转折点</tspan>45</text>
</g>
<path d="M11 43 H18 L14.5 47 Z" fill="#000"/>
<text transform="translate(22,49.5) scale(0.944,1)" font-family="'Liberation Sans',sans-serif" font-size="10" fill="#000" stroke="#000" stroke-width="0.2" xml:space="preserve">USOil-,H4  43.770 44.600 43.425 44.130</text>
<g clip-path="url(#cd)" shape-rendering="crispEdges">
<rect x="8" y="547" width="1" height="42" fill="#c0c0c0"/>
<rect x="16" y="547" width="1" height="41" fill="#c0c0c0"/>
<rect x="24" y="547" width="1" height="39" fill="#c0c0c0"/>
<rect x="32" y="547" width="1" height="39" fill="#c0c0c0"/>
<rect x="40" y="547" width="1" height="37" fill="#c0c0c0"/>
<rect x="48" y="547" width="1" height="36" fill="#c0c0c0"/>
<rect x="56" y="547" width="1" height="33" fill="#c0c0c0"/>
<rect x="64" y="547" width="1" height="35" fill="#c0c0c0"/>
<rect x="72" y="547" width="1" height="34" fill="#c0c0c0"/>
<rect x="80" y="547" width="1" height="31" fill="#c0c0c0"/>
<rect x="88" y="547" width="1" height="29" fill="#c0c0c0"/>
<rect x="96" y="547" width="1" height="27" fill="#c0c0c0"/>
<rect x="104" y="547" width="1" height="25" fill="#c0c0c0"/>
<rect x="112" y="547" width="1" height="23" fill="#c0c0c0"/>
<rect x="120" y="547" width="1" height="20" fill="#c0c0c0"/>
<rect x="128" y="547" width="1" height="17" fill="#c0c0c0"/>
<rect x="136" y="547" width="1" height="15" fill="#c0c0c0"/>
<rect x="144" y="547" width="1" height="11" fill="#c0c0c0"/>
<rect x="152" y="547" width="1" height="9" fill="#c0c0c0"/>
<rect x="160" y="547" width="1" height="7" fill="#c0c0c0"/>
<rect x="168" y="547" width="1" height="6" fill="#c0c0c0"/>
<rect x="176" y="547" width="1" height="5" fill="#c0c0c0"/>
<rect x="184" y="547" width="1" height="1" fill="#c0c0c0"/>
<rect x="192" y="547" width="1" height="1" fill="#c0c0c0"/>
<rect x="200" y="546" width="1" height="1" fill="#c0c0c0"/>
<rect x="208" y="545" width="1" height="2" fill="#c0c0c0"/>
<rect x="216" y="546" width="1" height="1" fill="#c0c0c0"/>
<rect x="224" y="546" width="1" height="1" fill="#c0c0c0"/>
<rect x="248" y="547" width="1" height="3" fill="#c0c0c0"/>
<rect x="256" y="547" width="1" height="6" fill="#c0c0c0"/>
<rect x="264" y="547" width="1" height="6" fill="#c0c0c0"/>
<rect x="272" y="547" width="1" height="6" fill="#c0c0c0"/>
<rect x="280" y="547" width="1" height="7" fill="#c0c0c0"/>
<rect x="288" y="547" width="1" height="8" fill="#c0c0c0"/>
<rect x="296" y="547" width="1" height="9" fill="#c0c0c0"/>
<rect x="304" y="547" width="1" height="10" fill="#c0c0c0"/>
<rect x="312" y="547" width="1" height="14" fill="#c0c0c0"/>
<rect x="320" y="547" width="1" height="19" fill="#c0c0c0"/>
<rect x="328" y="547" width="1" height="25" fill="#c0c0c0"/>
<rect x="336" y="547" width="1" height="30" fill="#c0c0c0"/>
<rect x="344" y="547" width="1" height="35" fill="#c0c0c0"/>
<rect x="352" y="547" width="1" height="38" fill="#c0c0c0"/>
<rect x="360" y="547" width="1" height="44" fill="#c0c0c0"/>
<rect x="368" y="547" width="1" height="45" fill="#c0c0c0"/>
<rect x="376" y="547" width="1" height="45" fill="#c0c0c0"/>
<rect x="384" y="547" width="1" height="45" fill="#c0c0c0"/>
<rect x="392" y="547" width="1" height="43" fill="#c0c0c0"/>
<rect x="400" y="547" width="1" height="42" fill="#c0c0c0"/>
<rect x="408" y="547" width="1" height="48" fill="#c0c0c0"/>
<rect x="416" y="547" width="1" height="51" fill="#c0c0c0"/>
<rect x="424" y="547" width="1" height="52" fill="#c0c0c0"/>
<rect x="432" y="547" width="1" height="60" fill="#c0c0c0"/>
<rect x="440" y="547" width="1" height="63" fill="#c0c0c0"/>
<rect x="448" y="547" width="1" height="67" fill="#c0c0c0"/>
<rect x="456" y="547" width="1" height="68" fill="#c0c0c0"/>
<rect x="464" y="547" width="1" height="70" fill="#c0c0c0"/>
<rect x="472" y="547" width="1" height="67" fill="#c0c0c0"/>
<rect x="480" y="547" width="1" height="67" fill="#c0c0c0"/>
<rect x="488" y="547" width="1" height="64" fill="#c0c0c0"/>
<rect x="496" y="547" width="1" height="61" fill="#c0c0c0"/>
<rect x="504" y="547" width="1" height="59" fill="#c0c0c0"/>
<rect x="512" y="547" width="1" height="53" fill="#c0c0c0"/>
<rect x="520" y="547" width="1" height="49" fill="#c0c0c0"/>
<rect x="528" y="547" width="1" height="44" fill="#c0c0c0"/>
<rect x="536" y="547" width="1" height="38" fill="#c0c0c0"/>
<rect x="544" y="547" width="1" height="33" fill="#c0c0c0"/>
<rect x="552" y="547" width="1" height="29" fill="#c0c0c0"/>
<rect x="560" y="547" width="1" height="29" fill="#c0c0c0"/>
<rect x="568" y="547" width="1" height="29" fill="#c0c0c0"/>
<rect x="576" y="547" width="1" height="29" fill="#c0c0c0"/>
<rect x="584" y="547" width="1" height="30" fill="#c0c0c0"/>
<rect x="592" y="547" width="1" height="32" fill="#c0c0c0"/>
<rect x="600" y="547" width="1" height="34" fill="#c0c0c0"/>
<rect x="608" y="547" width="1" height="35" fill="#c0c0c0"/>
<rect x="616" y="547" width="1" height="34" fill="#c0c0c0"/>
<rect x="624" y="547" width="1" height="32" fill="#c0c0c0"/>
<rect x="632" y="547" width="1" height="29" fill="#c0c0c0"/>
<rect x="640" y="547" width="1" height="27" fill="#c0c0c0"/>
<rect x="648" y="547" width="1" height="27" fill="#c0c0c0"/>
<rect x="656" y="547" width="1" height="30" fill="#c0c0c0"/>
<rect x="664" y="547" width="1" height="32" fill="#c0c0c0"/>
<rect x="672" y="547" width="1" height="34" fill="#c0c0c0"/>
<rect x="680" y="547" width="1" height="37" fill="#c0c0c0"/>
<rect x="688" y="547" width="1" height="38" fill="#c0c0c0"/>
<rect x="696" y="547" width="1" height="37" fill="#c0c0c0"/>
<rect x="704" y="547" width="1" height="35" fill="#c0c0c0"/>
<rect x="712" y="547" width="1" height="35" fill="#c0c0c0"/>
<rect x="720" y="547" width="1" height="40" fill="#c0c0c0"/>
<rect x="728" y="547" width="1" height="45" fill="#c0c0c0"/>
<rect x="736" y="547" width="1" height="45" fill="#c0c0c0"/>
<rect x="744" y="547" width="1" height="43" fill="#c0c0c0"/>
<rect x="752" y="547" width="1" height="42" fill="#c0c0c0"/>
<rect x="760" y="547" width="1" height="41" fill="#c0c0c0"/>
<rect x="768" y="547" width="1" height="44" fill="#c0c0c0"/>
<rect x="776" y="547" width="1" height="45" fill="#c0c0c0"/>
<rect x="784" y="547" width="1" height="44" fill="#c0c0c0"/>
<rect x="792" y="547" width="1" height="44" fill="#c0c0c0"/>
<rect x="800" y="547" width="1" height="39" fill="#c0c0c0"/>
<rect x="808" y="547" width="1" height="32" fill="#c0c0c0"/>
<rect x="816" y="547" width="1" height="28" fill="#c0c0c0"/>
<rect x="824" y="547" width="1" height="23" fill="#c0c0c0"/>
<rect x="832" y="547" width="1" height="17" fill="#c0c0c0"/>
<rect x="840" y="547" width="1" height="11" fill="#c0c0c0"/>
<rect x="848" y="547" width="1" height="10" fill="#c0c0c0"/>
<rect x="856" y="547" width="1" height="11" fill="#c0c0c0"/>
<rect x="864" y="547" width="1" height="11" fill="#c0c0c0"/>
<rect x="872" y="547" width="1" height="7" fill="#c0c0c0"/>
<rect x="880" y="547" width="1" height="7" fill="#c0c0c0"/>
<rect x="888" y="547" width="1" height="7" fill="#c0c0c0"/>
<rect x="896" y="547" width="1" height="8" fill="#c0c0c0"/>
<rect x="904" y="547" width="1" height="9" fill="#c0c0c0"/>
<rect x="912" y="547" width="1" height="11" fill="#c0c0c0"/>
<rect x="920" y="547" width="1" height="11" fill="#c0c0c0"/>
<rect x="928" y="547" width="1" height="15" fill="#c0c0c0"/>
<rect x="936" y="547" width="1" height="17" fill="#c0c0c0"/>
<rect x="944" y="547" width="1" height="17" fill="#c0c0c0"/>
<rect x="952" y="547" width="1" height="17" fill="#c0c0c0"/>
<rect x="960" y="547" width="1" height="17" fill="#c0c0c0"/>
<rect x="968" y="547" width="1" height="20" fill="#c0c0c0"/>
<rect x="976" y="547" width="1" height="20" fill="#c0c0c0"/>
<rect x="984" y="547" width="1" height="19" fill="#c0c0c0"/>
<rect x="992" y="547" width="1" height="19" fill="#c0c0c0"/>
<rect x="1000" y="547" width="1" height="16" fill="#c0c0c0"/>
<rect x="1008" y="547" width="1" height="14" fill="#c0c0c0"/>
<rect x="1016" y="547" width="1" height="16" fill="#c0c0c0"/>
<rect x="1024" y="547" width="1" height="13" fill="#c0c0c0"/>
<rect x="1032" y="547" width="1" height="11" fill="#c0c0c0"/>
<rect x="1040" y="547" width="1" height="7" fill="#c0c0c0"/>
<rect x="1048" y="547" width="1" height="5" fill="#c0c0c0"/>
<rect x="1056" y="547" width="1" height="1" fill="#c0c0c0"/>
<rect x="1064" y="546" width="1" height="1" fill="#c0c0c0"/>
<rect x="1072" y="543" width="1" height="4" fill="#c0c0c0"/>
<rect x="1080" y="541" width="1" height="6" fill="#c0c0c0"/>
<rect x="1088" y="541" width="1" height="6" fill="#c0c0c0"/>
<rect x="1096" y="541" width="1" height="6" fill="#c0c0c0"/>
<rect x="1104" y="540" width="1" height="7" fill="#c0c0c0"/>
<rect x="1112" y="538" width="1" height="9" fill="#c0c0c0"/>
<rect x="1120" y="537" width="1" height="10" fill="#c0c0c0"/>
<rect x="1128" y="537" width="1" height="10" fill="#c0c0c0"/>
<rect x="1136" y="536" width="1" height="11" fill="#c0c0c0"/>
<rect x="1144" y="533" width="1" height="14" fill="#c0c0c0"/>
<rect x="1152" y="532" width="1" height="15" fill="#c0c0c0"/>
<rect x="1160" y="531" width="1" height="16" fill="#c0c0c0"/>
<rect x="1168" y="529" width="1" height="18" fill="#c0c0c0"/>
<rect x="1176" y="528" width="1" height="19" fill="#c0c0c0"/>
<rect x="1184" y="528" width="1" height="19" fill="#c0c0c0"/>
<rect x="1192" y="529" width="1" height="18" fill="#c0c0c0"/>
<rect x="1200" y="529" width="1" height="18" fill="#c0c0c0"/>
<rect x="1208" y="530" width="1" height="17" fill="#c0c0c0"/>
<rect x="1216" y="530" width="1" height="17" fill="#c0c0c0"/>
<rect x="1224" y="531" width="1" height="16" fill="#c0c0c0"/>
<rect x="1232" y="533" width="1" height="14" fill="#c0c0c0"/>
<rect x="1240" y="537" width="1" height="10" fill="#c0c0c0"/>
<rect x="1248" y="541" width="1" height="6" fill="#c0c0c0"/>
<rect x="1256" y="541" width="1" height="6" fill="#c0c0c0"/>
<rect x="1264" y="540" width="1" height="7" fill="#c0c0c0"/>
<rect x="1272" y="538" width="1" height="9" fill="#c0c0c0"/>
<rect x="1280" y="536" width="1" height="11" fill="#c0c0c0"/>
<rect x="1288" y="532" width="1" height="15" fill="#c0c0c0"/>
<rect x="1296" y="529" width="1" height="18" fill="#c0c0c0"/>
<rect x="1304" y="527" width="1" height="20" fill="#c0c0c0"/>
<rect x="1312" y="523" width="1" height="24" fill="#c0c0c0"/>
<rect x="1320" y="520" width="1" height="27" fill="#c0c0c0"/>
<rect x="1328" y="519" width="1" height="28" fill="#c0c0c0"/>
<rect x="1336" y="517" width="1" height="30" fill="#c0c0c0"/>
<rect x="1344" y="517" width="1" height="30" fill="#c0c0c0"/>
<rect x="1352" y="514" width="1" height="33" fill="#c0c0c0"/>
<rect x="1360" y="514" width="1" height="33" fill="#c0c0c0"/>
<rect x="1368" y="516" width="1" height="31" fill="#c0c0c0"/>
<rect x="1376" y="518" width="1" height="29" fill="#c0c0c0"/>
<rect x="1384" y="521" width="1" height="26" fill="#c0c0c0"/>
<rect x="1392" y="525" width="1" height="22" fill="#c0c0c0"/>
<rect x="1400" y="529" width="1" height="18" fill="#c0c0c0"/>
<rect x="1408" y="530" width="1" height="17" fill="#c0c0c0"/>
<rect x="1416" y="531" width="1" height="16" fill="#c0c0c0"/>
<rect x="1424" y="537" width="1" height="10" fill="#c0c0c0"/>
<rect x="1432" y="543" width="1" height="4" fill="#c0c0c0"/>
<rect x="1448" y="547" width="1" height="7" fill="#c0c0c0"/>
<rect x="1456" y="547" width="1" height="12" fill="#c0c0c0"/>
<rect x="1464" y="547" width="1" height="15" fill="#c0c0c0"/>
<rect x="1472" y="547" width="1" height="17" fill="#c0c0c0"/>
<rect x="1480" y="547" width="1" height="18" fill="#c0c0c0"/>
<rect x="1488" y="547" width="1" height="17" fill="#c0c0c0"/>
<rect x="1496" y="547" width="1" height="19" fill="#c0c0c0"/>
<rect x="1504" y="547" width="1" height="23" fill="#c0c0c0"/>
<rect x="1512" y="547" width="1" height="29" fill="#c0c0c0"/>
<rect x="1520" y="547" width="1" height="32" fill="#c0c0c0"/>
<rect x="1528" y="547" width="1" height="34" fill="#c0c0c0"/>
<rect x="1536" y="547" width="1" height="37" fill="#c0c0c0"/>
<rect x="1544" y="547" width="1" height="41" fill="#c0c0c0"/>
<rect x="1552" y="547" width="1" height="40" fill="#c0c0c0"/>
<rect x="1560" y="547" width="1" height="45" fill="#c0c0c0"/>
<rect x="1568" y="547" width="1" height="49" fill="#c0c0c0"/>
<rect x="1576" y="547" width="1" height="54" fill="#c0c0c0"/>
<rect x="1584" y="547" width="1" height="57" fill="#c0c0c0"/>
<rect x="1592" y="547" width="1" height="61" fill="#c0c0c0"/>
<rect x="1600" y="547" width="1" height="67" fill="#c0c0c0"/>
<rect x="1608" y="547" width="1" height="70" fill="#c0c0c0"/>
<rect x="1616" y="547" width="1" height="71" fill="#c0c0c0"/>
<rect x="1624" y="547" width="1" height="76" fill="#c0c0c0"/>
<rect x="1632" y="547" width="1" height="79" fill="#c0c0c0"/>
<rect x="1640" y="547" width="1" height="81" fill="#c0c0c0"/>
<rect x="1648" y="547" width="1" height="88" fill="#c0c0c0"/>
<rect x="1656" y="547" width="1" height="88" fill="#c0c0c0"/>
<rect x="1664" y="547" width="1" height="87" fill="#c0c0c0"/>
<rect x="1672" y="547" width="1" height="89" fill="#c0c0c0"/>
<polyline points="8.5,592.3 35.5,590.9 70.5,585.6 105.5,578.6 140.5,570.7 175.5,560.2 193.2,554.4 212.3,550.6 236.8,546.5 250.8,546.5 271.8,547.9 289.4,550.9 306.9,554.1 324.4,557.0 341.9,562.8 359.4,571.6 377.0,580.0 394.5,586.0 412.0,590.0 422.3,592.3 438.0,596.1 455.5,601.4 473.1,608.4 490.5,612.2 502.9,613.3 516.9,611.0 534.4,604.9 551.9,596.5 569.5,588.2 587.0,581.2 604.5,578.6 622.0,579.5 648.0,578.6 691.8,579.5 709.4,580.7 726.9,583.9 744.4,587.4 770.7,588.8 788.2,591.2 797.0,590.9 814.5,588.8 832.0,582.1 842.3,577.7 858.0,571.6 875.5,564.6 893.1,557.9 910.5,556.5 924.5,556.7 945.5,559.7 971.9,562.8 998.2,565.5 1015.7,564.6 1033.2,563.2 1050.8,559.3 1068.0,555.8 1085.5,550.9 1103.1,545.7 1120.5,541.4 1138.1,538.3 1155.5,536.2 1173.2,533.9 1190.5,530.9 1208.2,529.2 1225.7,528.3 1243.2,529.9 1262.3,533.4 1271.0,535.7 1295.5,535.3 1313.1,533.0 1330.5,527.4 1348.1,522.5 1365.5,518.5 1383.2,516.4 1400.5,518.1 1418.2,521.6 1435.7,527.8 1453.2,536.5 1473.1,547.4 1488.0,555.8 1505.5,561.4 1523.1,568.4 1540.5,573.7 1558.1,579.5 1575.5,587.0 1593.2,594.7 1610.7,602.2 1628.2,610.5 1645.7,618.9 1659.5,624.5 1672.0,628.0" fill="none" stroke="#ff0000" stroke-width="1" stroke-dasharray="3 3"/>
</g>
<text transform="translate(11,518) scale(0.946,1)" font-family="'Liberation Sans',sans-serif" font-size="10" fill="#000" stroke="#000" stroke-width="0.2" >MACD(12,26,9) -1.6831 -1.5167</text>
<g clip-path="url(#cr)" shape-rendering="crispEdges">
<line x1="9" y1="685.5" x2="1693" y2="685.5" stroke="#c0c0c0" stroke-dasharray="3 3"/>
<line x1="9" y1="735.5" x2="1693" y2="735.5" stroke="#c0c0c0" stroke-dasharray="3 3"/>
<polyline points="8.5,725.0 16.5,728.5 24.5,726.4 32.5,729.3 40.5,729.3 48.5,728.3 56.5,723.4 64.5,733.7 72.5,725.5 80.5,720.7 88.5,719.5 96.5,720.2 104.5,724.4 112.5,714.6 120.5,713.3 128.5,710.4 136.5,711.4 144.5,708.5 152.5,707.2 160.5,710.4 168.5,709.3 176.5,706.5 184.5,698.4 192.5,700.3 200.5,702.3 208.5,706.8 216.5,710.9 224.5,707.2 232.5,710.9 240.5,718.2 248.5,723.9 256.5,728.3 264.5,713.3 272.5,716.2 280.5,716.5 288.5,719.2 296.5,721.3 304.5,721.3 312.5,733.7 320.5,738.5 328.5,743.4 336.5,745.3 344.5,745.3 352.5,746.6 360.5,751.5 368.5,736.9 376.5,735.3 384.5,735.3 392.5,730.5 400.5,733.7 408.5,744.2 416.5,743.4 424.5,742.6 432.5,751.5 440.5,745.5 448.5,745.5 456.5,746.6 464.5,744.5 472.5,739.7 480.5,739.7 488.5,740.2 496.5,735.3 504.5,735.3 512.5,720.8 520.5,725.2 528.5,720.3 536.5,712.7 544.5,715.3 552.5,716.8 560.5,723.2 568.5,724.5 576.5,726.5 584.5,730.0 592.5,734.2 600.5,735.3 608.5,736.1 616.5,730.5 624.5,721.6 632.5,713.5 640.5,720.8 648.5,724.8 656.5,733.2 664.5,733.2 672.5,732.1 680.5,737.4 688.5,729.7 696.5,726.5 704.5,724.5 712.5,732.1 720.5,739.4 728.5,740.2 736.5,730.5 744.5,729.4 752.5,725.6 760.5,728.9 768.5,734.5 776.5,735.3 784.5,727.3 792.5,730.5 800.5,716.0 808.5,707.4 816.5,713.2 824.5,710.6 832.5,704.7 840.5,703.4 848.5,709.5 856.5,717.1 864.5,713.2 872.5,708.4 880.5,710.0 888.5,713.2 896.5,717.1 904.5,716.5 912.5,720.3 920.5,718.4 928.5,725.2 936.5,719.7 944.5,720.3 952.5,719.2 960.5,719.2 968.5,725.2 976.5,722.4 984.5,717.6 992.5,718.4 1000.5,711.6 1008.5,711.6 1016.5,720.3 1024.5,716.0 1032.5,708.4 1040.5,706.8 1048.5,706.8 1056.5,699.8 1064.5,698.7 1072.5,696.1 1080.5,699.8 1088.5,706.4 1096.5,706.5 1104.5,700.6 1112.5,697.4 1120.5,700.3 1128.5,700.3 1136.5,698.4 1144.5,689.4 1152.5,695.2 1160.5,693.5 1168.5,691.5 1176.5,693.5 1184.5,695.5 1192.5,694.2 1200.5,695.5 1208.5,695.5 1216.5,693.1 1224.5,699.5 1232.5,710.3 1240.5,715.6 1248.5,721.3 1256.5,707.6 1264.5,701.1 1272.5,696.3 1280.5,690.6 1288.5,690.3 1296.5,686.6 1304.5,685.0 1312.5,680.6 1320.5,679.4 1328.5,684.5 1336.5,682.3 1344.5,686.6 1352.5,678.3 1360.5,691.7 1368.5,698.7 1376.5,697.4 1384.5,702.3 1392.5,711.3 1400.5,710.3 1408.5,702.3 1416.5,703.2 1424.5,721.0 1432.5,721.3 1440.5,723.2 1448.5,730.2 1456.5,731.3 1464.5,723.2 1472.5,724.2 1480.5,722.1 1488.5,717.3 1496.5,722.1 1504.5,731.0 1512.5,737.4 1520.5,730.2 1528.5,729.4 1536.5,733.4 1544.5,737.4 1552.5,725.3 1560.5,735.0 1568.5,736.1 1576.5,738.2 1584.5,739.4 1592.5,741.0 1600.5,745.2 1608.5,742.6 1616.5,742.6 1624.5,747.1 1632.5,747.3 1640.5,747.3 1648.5,753.0 1656.5,738.5 1664.5,737.3 1672.5,742.5" fill="none" stroke="#1e90ff" stroke-width="1" />
</g>
<text transform="translate(11,659) scale(0.948,1)" font-family="'Liberation Sans',sans-serif" font-size="10" fill="#000" stroke="#000" stroke-width="0.2" >RSI(14) 23.9610</text>
<g shape-rendering="crispEdges" fill="none" stroke="#000" stroke-width="1">
<rect x="7.5" y="37.5" width="1686" height="466"/>
<rect x="7.5" y="505.5" width="1686" height="139"/>
<rect x="7.5" y="646.5" width="1686" height="127"/>
</g>
<rect x="7" y="340" width="6" height="6" fill="#ff0000"/><rect x="9" y="342" width="2" height="2" fill="#fff"/>
<rect x="1687" y="340" width="6" height="6" fill="#ff0000"/><rect x="1689" y="342" width="2" height="2" fill="#fff"/>
<rect x="7" y="447" width="6" height="6" fill="#00ff7f"/><rect x="9" y="449" width="2" height="2" fill="#fff"/>
<rect x="1687" y="447" width="6" height="6" fill="#00ff7f"/><rect x="1689" y="449" width="2" height="2" fill="#fff"/>
<rect x="1694" y="71" width="3" height="1" fill="#000"/>
<text transform="translate(1699,75) scale(0.933,1)" font-family="'Liberation Sans',sans-serif" font-size="10" fill="#000" stroke="#000" stroke-width="0.2" >59.215</text>
<rect x="1694" y="104" width="3" height="1" fill="#000"/>
<text transform="translate(1699,108) scale(0.933,1)" font-family="'Liberation Sans',sans-serif" font-size="10" fill="#000" stroke="#000" stroke-width="0.2" >57.990</text>
<rect x="1694" y="137" width="3" height="1" fill="#000"/>
<text transform="translate(1699,141) scale(0.933,1)" font-family="'Liberation Sans',sans-serif" font-size="10" fill="#000" stroke="#000" stroke-width="0.2" >56.730</text>
<rect x="1694" y="170" width="3" height="1" fill="#000"/>
<text transform="translate(1699,174) scale(0.933,1)" font-family="'Liberation Sans',sans-serif" font-size="10" fill="#000" stroke="#000" stroke-width="0.2" >55.505</text>
<rect x="1694" y="202" width="3" height="1" fill="#000"/>
<text transform="translate(1699,206) scale(0.933,1)" font-family="'Liberation Sans',sans-serif" font-size="10" fill="#000" stroke="#000" stroke-width="0.2" >54.280</text>
<rect x="1694" y="236" width="3" height="1" fill="#000"/>
<text transform="translate(1699,240) scale(0.933,1)" font-family="'Liberation Sans',sans-serif" font-size="10" fill="#000" stroke="#000" stroke-width="0.2" >53.020</text>
<rect x="1694" y="269" width="3" height="1" fill="#000"/>
<text transform="translate(1699,273) scale(0.933,1)" font-family="'Liberation Sans',sans-serif" font-size="10" fill="#000" stroke="#000" stroke-width="0.2" >51.795</text>
<rect x="1694" y="302" width="3" height="1" fill="#000"/>
<text transform="translate(1699,306) scale(0.933,1)" font-family="'Liberation Sans',sans-serif" font-size="10" fill="#000" stroke="#000" stroke-width="0.2" >50.535</text>
<rect x="1694" y="335" width="3" height="1" fill="#000"/>
<text transform="translate(1699,339) scale(0.933,1)" font-family="'Liberation Sans',sans-serif" font-size="10" fill="#000" stroke="#000" stroke-width="0.2" >49.310</text>
<rect x="1694" y="369" width="3" height="1" fill="#000"/>
<text transform="translate(1699,373) scale(0.933,1)" font-family="'Liberation Sans',sans-serif" font-size="10" fill="#000" stroke="#000" stroke-width="0.2" >48.050</text>
<rect x="1694" y="401" width="3" height="1" fill="#000"/>
<text transform="translate(1699,405) scale(0.933,1)" font-family="'Liberation Sans',sans-serif" font-size="10" fill="#000" stroke="#000" stroke-width="0.2" >46.825</text>
<rect x="1694" y="434" width="3" height="1" fill="#000"/>
<text transform="translate(1699,438) scale(0.933,1)" font-family="'Liberation Sans',sans-serif" font-size="10" fill="#000" stroke="#000" stroke-width="0.2" >45.600</text>
<rect x="1694" y="467" width="3" height="1" fill="#000"/>
<text transform="translate(1699,471) scale(0.933,1)" font-family="'Liberation Sans',sans-serif" font-size="10" fill="#000" stroke="#000" stroke-width="0.2" >44.340</text>
<rect x="1694" y="500" width="3" height="1" fill="#000"/>
<text transform="translate(1699,504) scale(0.933,1)" font-family="'Liberation Sans',sans-serif" font-size="10" fill="#000" stroke="#000" stroke-width="0.2" >43.115</text>
<rect x="1695" y="257" width="36" height="11" fill="#ff0000"/>
<text transform="translate(1699,266) scale(0.933,1)" font-family="'Liberation Sans',sans-serif" font-size="10" fill="#fff" stroke="#fff" stroke-width="0.2" >52.000</text>
<rect x="1695" y="337" width="36" height="11" fill="#ff0000"/>
<text transform="translate(1699,346) scale(0.933,1)" font-family="'Liberation Sans',sans-serif" font-size="10" fill="#fff" stroke="#fff" stroke-width="0.2" >49.000</text>
<rect x="1695" y="444" width="36" height="11" fill="#00ff7f"/>
<text transform="translate(1699,453) scale(0.933,1)" font-family="'Liberation Sans',sans-serif" font-size="10" fill="#fff" stroke="#fff" stroke-width="0.2" >45.000</text>
<rect x="1695" y="468" width="36" height="11" fill="#000000"/>
<text transform="translate(1699,477) scale(0.933,1)" font-family="'Liberation Sans',sans-serif" font-size="10" fill="#fff" stroke="#fff" stroke-width="0.2" >44.130</text>
<rect x="1694" y="507" width="3" height="1" fill="#000"/>
<text transform="translate(1697,516) scale(0.933,1)" font-family="'Liberation Sans',sans-serif" font-size="10" fill="#000" stroke="#000" stroke-width="0.2" >0.7686</text>
<rect x="1694" y="547" width="3" height="1" fill="#000"/>
<text transform="translate(1697,551) scale(0.933,1)" font-family="'Liberation Sans',sans-serif" font-size="10" fill="#000" stroke="#000" stroke-width="0.2" >0.00</text>
<rect x="1694" y="643" width="3" height="1" fill="#000"/>
<text transform="translate(1697,641) scale(0.933,1)" font-family="'Liberation Sans',sans-serif" font-size="10" fill="#000" stroke="#000" stroke-width="0.2" >-1.7999</text>
<rect x="1694" y="648" width="3" height="1" fill="#000"/>
<text transform="translate(1697,657) scale(0.933,1)" font-family="'Liberation Sans',sans-serif" font-size="10" fill="#000" stroke="#000" stroke-width="0.2" >100</text>
<rect x="1694" y="685" width="3" height="1" fill="#000"/>
<text transform="translate(1697,689.5) scale(0.933,1)" font-family="'Liberation Sans',sans-serif" font-size="10" fill="#000" stroke="#000" stroke-width="0.2" >70</text>
<rect x="1694" y="735" width="3" height="1" fill="#000"/>
<text transform="translate(1697,739.5) scale(0.933,1)" font-family="'Liberation Sans',sans-serif" font-size="10" fill="#000" stroke="#000" stroke-width="0.2" >30</text>
<text transform="translate(1697,770) scale(0.933,1)" font-family="'Liberation Sans',sans-serif" font-size="10" fill="#000" stroke="#000" stroke-width="0.2" >0</text>
<rect x="1694" y="772" width="2" height="1" fill="#000"/>
<rect x="8" y="774" width="1" height="3" fill="#000"/>
<text transform="translate(7,786.2) scale(0.945,1)" font-family="'Liberation Sans',sans-serif" font-size="9.8" fill="#000" stroke="#000" stroke-width="0.2" >14 Jan 2020</text>
<rect x="72" y="774" width="1" height="3" fill="#000"/>
<text transform="translate(71,786.2) scale(0.945,1)" font-family="'Liberation Sans',sans-serif" font-size="9.8" fill="#000" stroke="#000" stroke-width="0.2" >15 Jan 16:00</text>
<rect x="136" y="774" width="1" height="3" fill="#000"/>
<text transform="translate(135,786.2) scale(0.945,1)" font-family="'Liberation Sans',sans-serif" font-size="9.8" fill="#000" stroke="#000" stroke-width="0.2" >17 Jan 00:00</text>
<rect x="200" y="774" width="1" height="3" fill="#000"/>
<text transform="translate(199,786.2) scale(0.945,1)" font-family="'Liberation Sans',sans-serif" font-size="9.8" fill="#000" stroke="#000" stroke-width="0.2" >20 Jan 04:00</text>
<rect x="264" y="774" width="1" height="3" fill="#000"/>
<text transform="translate(263,786.2) scale(0.945,1)" font-family="'Liberation Sans',sans-serif" font-size="9.8" fill="#000" stroke="#000" stroke-width="0.2" >21 Jan 12:00</text>
<rect x="328" y="774" width="1" height="3" fill="#000"/>
<text transform="translate(327,786.2) scale(0.945,1)" font-family="'Liberation Sans',sans-serif" font-size="9.8" fill="#000" stroke="#000" stroke-width="0.2" >22 Jan 20:00</text>
<rect x="392" y="774" width="1" height="3" fill="#000"/>
<text transform="translate(391,786.2) scale(0.945,1)" font-family="'Liberation Sans',sans-serif" font-size="9.8" fill="#000" stroke="#000" stroke-width="0.2" >24 Jan 04:00</text>
<rect x="456" y="774" width="1" height="3" fill="#000"/>
<text transform="translate(455,786.2) scale(0.945,1)" font-family="'Liberation Sans',sans-serif" font-size="9.8" fill="#000" stroke="#000" stroke-width="0.2" >27 Jan 08:00</text>
<rect x="520" y="774" width="1" height="3" fill="#000"/>
<text transform="translate(519,786.2) scale(0.945,1)" font-family="'Liberation Sans',sans-serif" font-size="9.8" fill="#000" stroke="#000" stroke-width="0.2" >28 Jan 16:00</text>
<rect x="584" y="774" width="1" height="3" fill="#000"/>
<text transform="translate(583,786.2) scale(0.945,1)" font-family="'Liberation Sans',sans-serif" font-size="9.8" fill="#000" stroke="#000" stroke-width="0.2" >30 Jan 00:00</text>
<rect x="648" y="774" width="1" height="3" fill="#000"/>
<text transform="translate(647,786.2) scale(0.945,1)" font-family="'Liberation Sans',sans-serif" font-size="9.8" fill="#000" stroke="#000" stroke-width="0.2" >31 Jan 08:00</text>
<rect x="712" y="774" width="1" height="3" fill="#000"/>
<text transform="translate(711,786.2) scale(0.945,1)" font-family="'Liberation Sans',sans-serif" font-size="9.8" fill="#000" stroke="#000" stroke-width="0.2" >3 Feb 12:00</text>
<rect x="776" y="774" width="1" height="3" fill="#000"/>
<text transform="translate(775,786.2) scale(0.945,1)" font-family="'Liberation Sans',sans-serif" font-size="9.8" fill="#000" stroke="#000" stroke-width="0.2" >4 Feb 20:00</text>
<rect x="840" y="774" width="1" height="3" fill="#000"/>
<text transform="translate(839,786.2) scale(0.945,1)" font-family="'Liberation Sans',sans-serif" font-size="9.8" fill="#000" stroke="#000" stroke-width="0.2" >6 Feb 04:00</text>
<rect x="904" y="774" width="1" height="3" fill="#000"/>
<text transform="translate(903,786.2) scale(0.945,1)" font-family="'Liberation Sans',sans-serif" font-size="9.8" fill="#000" stroke="#000" stroke-width="0.2" >7 Feb 12:00</text>
<rect x="968" y="774" width="1" height="3" fill="#000"/>
<text transform="translate(967,786.2) scale(0.945,1)" font-family="'Liberation Sans',sans-serif" font-size="9.8" fill="#000" stroke="#000" stroke-width="0.2" >10 Feb 16:00</text>
<rect x="1032" y="774" width="1" height="3" fill="#000"/>
<text transform="translate(1031,786.2) scale(0.945,1)" font-family="'Liberation Sans',sans-serif" font-size="9.8" fill="#000" stroke="#000" stroke-width="0.2" >12 Feb 00:00</text>
<rect x="1096" y="774" width="1" height="3" fill="#000"/>
<text transform="translate(1095,786.2) scale(0.945,1)" font-family="'Liberation Sans',sans-serif" font-size="9.8" fill="#000" stroke="#000" stroke-width="0.2" >13 Feb 08:00</text>
<rect x="1160" y="774" width="1" height="3" fill="#000"/>
<text transform="translate(1159,786.2) scale(0.945,1)" font-family="'Liberation Sans',sans-serif" font-size="9.8" fill="#000" stroke="#000" stroke-width="0.2" >14 Feb 16:00</text>
<rect x="1224" y="774" width="1" height="3" fill="#000"/>
<text transform="translate(1223,786.2) scale(0.945,1)" font-family="'Liberation Sans',sans-serif" font-size="9.8" fill="#000" stroke="#000" stroke-width="0.2" >17 Feb 23:00</text>
<rect x="1288" y="774" width="1" height="3" fill="#000"/>
<text transform="translate(1287,786.2) scale(0.945,1)" font-family="'Liberation Sans',sans-serif" font-size="9.8" fill="#000" stroke="#000" stroke-width="0.2" >19 Feb 04:00</text>
<rect x="1352" y="774" width="1" height="3" fill="#000"/>
<text transform="translate(1351,786.2) scale(0.945,1)" font-family="'Liberation Sans',sans-serif" font-size="9.8" fill="#000" stroke="#000" stroke-width="0.2" >20 Feb 12:00</text>
<rect x="1416" y="774" width="1" height="3" fill="#000"/>
<text transform="translate(1415,786.2) scale(0.945,1)" font-family="'Liberation Sans',sans-serif" font-size="9.8" fill="#000" stroke="#000" stroke-width="0.2" >21 Feb 20:00</text>
<rect x="1480" y="774" width="1" height="3" fill="#000"/>
<text transform="translate(1479,786.2) scale(0.945,1)" font-family="'Liberation Sans',sans-serif" font-size="9.8" fill="#000" stroke="#000" stroke-width="0.2" >25 Feb 00:00</text>
<rect x="1544" y="774" width="1" height="3" fill="#000"/>
<text transform="translate(1543,786.2) scale(0.945,1)" font-family="'Liberation Sans',sans-serif" font-size="9.8" fill="#000" stroke="#000" stroke-width="0.2" >26 Feb 08:00</text>
<rect x="1608" y="774" width="1" height="3" fill="#000"/>
<text transform="translate(1607,786.2) scale(0.945,1)" font-family="'Liberation Sans',sans-serif" font-size="9.8" fill="#000" stroke="#000" stroke-width="0.2" >27 Feb 16:00</text>
<rect x="1672" y="774" width="1" height="3" fill="#000"/>
<text transform="translate(1671,786.2) scale(0.945,1)" font-family="'Liberation Sans',sans-serif" font-size="9.8" fill="#000" stroke="#000" stroke-width="0.2" >1 Mar 23:00</text>
<rect x="0" y="0" width="658" height="6" fill="#f0f0f0"/>
<rect x="0" y="6" width="658" height="1" fill="#a0a0a0"/>
<rect x="657" y="0" width="1" height="6" fill="#a0a0a0"/>
<rect x="0" y="0" width="19" height="5" fill="#fbfbfb"/>
<rect x="0" y="0" width="14" height="1.5" fill="#3a78c8"/>
<path d="M34 0 L42 5" stroke="#d4a21c" stroke-width="2.2"/>
<rect x="29" y="0" width="6" height="1.5" fill="#6d8fb6"/>
<rect x="52" y="0" width="1" height="5" fill="#8c8c8c"/>
<rect x="65" y="0" width="16" height="3" fill="#e0e0e0"/><rect x="71" y="0" width="4" height="4" fill="#1faa1f"/>
<ellipse cx="138.5" cy="0" rx="4" ry="2.2" fill="#8b5a2b"/>
<rect x="158.5" y="-4" width="15" height="6" rx="2" fill="#dfe7f2" stroke="#5876a8"/>
<rect x="189" y="0" width="7" height="2" fill="#d0dbe8"/><rect x="195" y="0" width="4" height="2.5" fill="#3aa34a"/>
<circle cx="222" cy="-1" r="3.5" fill="#e03a2a"/><circle cx="219" cy="0" r="1.5" fill="#f3c244"/>
<rect x="289" y="0" width="1" height="6" fill="#a0a0a0"/>
<rect x="293" y="0" width="3" height="1" fill="#9a9a9a"/><rect x="293" y="2" width="3" height="1" fill="#9a9a9a"/><rect x="293" y="4" width="3" height="1" fill="#9a9a9a"/>
<rect x="307" y="0" width="1" height="2" fill="#444"/><rect x="307" y="1" width="11" height="1" fill="#777"/><rect x="317" y="0" width="1" height="2" fill="#444"/>
<rect x="363" y="0" width="1" height="2" fill="#444"/><rect x="363" y="1" width="11" height="1" fill="#777"/><rect x="373" y="0" width="1" height="2" fill="#444"/>
<rect x="515" y="0" width="1" height="2" fill="#444"/><rect x="515" y="1" width="11" height="1" fill="#777"/><rect x="525" y="0" width="1" height="2" fill="#444"/>
<rect x="327" y="0" width="25" height="5" fill="#fafafa"/><rect x="327" y="0" width="1" height="5" fill="#7a7a7a"/>
<rect x="335" y="0" width="1" height="2" fill="#444"/><rect x="335" y="1" width="11" height="1" fill="#777"/><rect x="345" y="0" width="1" height="2" fill="#444"/>
<rect x="479" y="0" width="25" height="5" fill="#fafafa"/><rect x="479" y="0" width="1" height="5" fill="#7a7a7a"/>
<rect x="487" y="0" width="1" height="2" fill="#444"/><rect x="487" y="1" width="11" height="1" fill="#777"/><rect x="497" y="0" width="1" height="2" fill="#444"/>
<rect x="384" y="0" width="1" height="5" fill="#8c8c8c"/>
<path d="M405 0 L407 2 L409 0 Z" fill="#d4a21c"/><path d="M433 0 L435 2 L437 0 Z" fill="#d4a21c"/>
<rect x="449" y="0" width="8" height="3" fill="#3a78c8"/><rect x="457" y="0" width="8" height="3" fill="#3aa34a"/><rect x="450" y="0" width="6" height="2" fill="#cfe0f5"/><rect x="458" y="0" width="6" height="2" fill="#cdebd0"/>
<rect x="474" y="0" width="1" height="5" fill="#8c8c8c"/>
<rect x="536" y="0" width="1" height="5" fill="#8c8c8c"/>
<rect x="547" y="0" width="16" height="3" fill="#e0e0e0"/><rect x="554" y="0" width="4" height="4" fill="#1faa1f"/>
<ellipse cx="592" cy="0" rx="5" ry="2" fill="#2a5fa8"/>
<rect x="623" y="0" width="16" height="2" fill="#3a78c8"/>
<rect x="381" y="8" width="1" height="25" fill="#a0a0a0"/>
<rect x="120" y="8" width="1" height="25" fill="#a0a0a0"/>
<rect x="124" y="11" width="3" height="1" fill="#a8a8a8"/>
<rect x="124" y="13" width="3" height="1" fill="#a8a8a8"/>
<rect x="124" y="15" width="3" height="1" fill="#a8a8a8"/>
<rect x="124" y="17" width="3" height="1" fill="#a8a8a8"/>
<rect x="124" y="19" width="3" height="1" fill="#a8a8a8"/>
<rect x="124" y="21" width="3" height="1" fill="#a8a8a8"/>
<rect x="124" y="23" width="3" height="1" fill="#a8a8a8"/>
<rect x="124" y="25" width="3" height="1" fill="#a8a8a8"/>
<rect x="124" y="27" width="3" height="1" fill="#a8a8a8"/>
<rect x="124" y="29" width="3" height="1" fill="#a8a8a8"/>
<rect x="4" y="14" width="1" height="1" fill="#555"/>
<rect x="6" y="14" width="1" height="1" fill="#555"/>
<rect x="8" y="14" width="1" height="1" fill="#555"/>
<rect x="10" y="14" width="1" height="1" fill="#555"/>
<rect x="12" y="14" width="1" height="1" fill="#555"/>
<rect x="14" y="14" width="1" height="1" fill="#555"/>
<rect x="16" y="14" width="1" height="1" fill="#555"/>
<rect x="4" y="17" width="1" height="1" fill="#555"/>
<rect x="6" y="17" width="1" height="1" fill="#555"/>
<rect x="8" y="17" width="1" height="1" fill="#555"/>
<rect x="10" y="17" width="1" height="1" fill="#555"/>
<rect x="12" y="17" width="1" height="1" fill="#555"/>
<rect x="14" y="17" width="1" height="1" fill="#555"/>
<rect x="16" y="17" width="1" height="1" fill="#555"/>
<rect x="4" y="21" width="1" height="1" fill="#555"/>
<rect x="6" y="21" width="1" height="1" fill="#555"/>
<rect x="8" y="21" width="1" height="1" fill="#555"/>
<rect x="10" y="21" width="1" height="1" fill="#555"/>
<rect x="12" y="21" width="1" height="1" fill="#555"/>
<rect x="14" y="21" width="1" height="1" fill="#555"/>
<rect x="16" y="21" width="1" height="1" fill="#555"/>
<rect x="4" y="25" width="1" height="1" fill="#555"/>
<rect x="6" y="25" width="1" height="1" fill="#555"/>
<rect x="8" y="25" width="1" height="1" fill="#555"/>
<rect x="10" y="25" width="1" height="1" fill="#555"/>
<rect x="12" y="25" width="1" height="1" fill="#555"/>
<rect x="14" y="25" width="1" height="1" fill="#555"/>
<rect x="16" y="25" width="1" height="1" fill="#555"/>
<text x="13.4" y="30" font-family="'Liberation Sans',sans-serif" font-size="7.2" font-weight="bold" fill="#4a4a4a">F</text>
<text x="34.5" y="26.3" font-family="'Liberation Sans',sans-serif" font-size="12" font-weight="bold" fill="#555">A</text>
<rect x="61" y="15" width="1" height="1" fill="#555"/><rect x="61" y="27" width="1" height="1" fill="#555"/>
<rect x="63" y="15" width="1" height="1" fill="#555"/><rect x="63" y="27" width="1" height="1" fill="#555"/>
<rect x="65" y="15" width="1" height="1" fill="#555"/><rect x="65" y="27" width="1" height="1" fill="#555"/>
<rect x="67" y="15" width="1" height="1" fill="#555"/><rect x="67" y="27" width="1" height="1" fill="#555"/>
<rect x="69" y="15" width="1" height="1" fill="#555"/><rect x="69" y="27" width="1" height="1" fill="#555"/>
<rect x="71" y="15" width="1" height="1" fill="#555"/><rect x="71" y="27" width="1" height="1" fill="#555"/>
<rect x="61" y="15" width="1" height="1" fill="#555"/><rect x="72" y="15" width="1" height="1" fill="#555"/>
<rect x="61" y="17" width="1" height="1" fill="#555"/><rect x="72" y="17" width="1" height="1" fill="#555"/>
<rect x="61" y="19" width="1" height="1" fill="#555"/><rect x="72" y="19" width="1" height="1" fill="#555"/>
<rect x="61" y="21" width="1" height="1" fill="#555"/><rect x="72" y="21" width="1" height="1" fill="#555"/>
<rect x="61" y="23" width="1" height="1" fill="#555"/><rect x="72" y="23" width="1" height="1" fill="#555"/>
<rect x="61" y="25" width="1" height="1" fill="#555"/><rect x="72" y="25" width="1" height="1" fill="#555"/>
<rect x="61" y="27" width="1" height="1" fill="#555"/><rect x="72" y="27" width="1" height="1" fill="#555"/>
<rect x="60" y="14" width="2" height="2" fill="#555"/>
<text x="67" y="26" text-anchor="middle" font-family="'Liberation Sans',sans-serif" font-size="11" font-weight="bold" fill="#505050">T</text>
<path d="M88 18 L91.5 15 L95 18 L91.5 20 Z" fill="#555"/>
<path d="M95.5 25 L99 22 L102.5 25 L99 28 Z" fill="#555"/>
<path d="M90.5 22 L92.5 24.5 L97 19" fill="none" stroke="#555" stroke-width="1.3"/>
<path d="M109 20.5 H114.5 L111.75 23.5 Z" fill="#000"/>
<rect x="270" y="9" width="25" height="22" fill="#f9f9f9"/>
<rect x="270" y="9" width="25" height="1" fill="#a0a0a0"/><rect x="270" y="9" width="1" height="22" fill="#a0a0a0"/>
<rect x="294" y="9" width="1" height="22" fill="#ffffff"/><rect x="270" y="30" width="25" height="1" fill="#ffffff"/>
<text x="141.9" y="25.3" font-family="'Liberation Sans',sans-serif" font-size="10.5" fill="#404040" text-anchor="middle">M1</text>
<text x="169.9" y="25.3" font-family="'Liberation Sans',sans-serif" font-size="10.5" fill="#404040" text-anchor="middle">M5</text>
<text x="198.3" y="25.3" font-family="'Liberation Sans',sans-serif" font-size="10.5" fill="#404040" text-anchor="middle">M15</text>
<text x="226.3" y="25.3" font-family="'Liberation Sans',sans-serif" font-size="10.5" fill="#404040" text-anchor="middle">M30</text>
<text x="254.4" y="25.3" font-family="'Liberation Sans',sans-serif" font-size="10.5" fill="#404040" text-anchor="middle">H1</text>
<text x="281.8" y="25.3" font-family="'Liberation Sans',sans-serif" font-size="10.5" fill="#404040" text-anchor="middle">H4</text>
<text x="310.5" y="25.3" font-family="'Liberation Sans',sans-serif" font-size="10.5" fill="#404040" text-anchor="middle">D1</text>
<text x="339.3" y="25.3" font-family="'Liberation Sans',sans-serif" font-size="10.5" fill="#404040" text-anchor="middle">W1</text>
<text x="366.1" y="25.3" font-family="'Liberation Sans',sans-serif" font-size="10.5" fill="#404040" text-anchor="middle">MN</text>
<rect x="0" y="33" width="1736" height="1" fill="#a0a0a0"/>
<rect x="0" y="34" width="1736" height="1" fill="#696969"/>
<rect x="3" y="34" width="1" height="761" fill="#a0a0a0"/>
<rect x="4" y="34" width="1" height="761" fill="#696969"/>
<rect x="1734" y="35" width="1" height="760" fill="#e3e3e3"/>
<rect x="4" y="794" width="1731" height="1" fill="#e3e3e3"/>
<rect x="0" y="795" width="1736" height="4" fill="#fdfdfd"/>
<rect x="1735" y="35" width="1" height="760" fill="#fbfbfb"/>
<rect x="90" y="798" width="1646" height="1" fill="#f0f0f0"/>
<rect x="88" y="796" width="1648" height="1" fill="#1e1e1e"/>
<rect x="88" y="796" width="1" height="3" fill="#1e1e1e"/>
<rect x="3.5" y="796.5" width="6" height="4" fill="#fff" stroke="#333"/>
<rect x="1711" y="0" width="6" height="1" fill="#707070"/><rect x="1712" y="1" width="3" height="1" fill="#b0b0b0"/>
</svg>
</body></html>
